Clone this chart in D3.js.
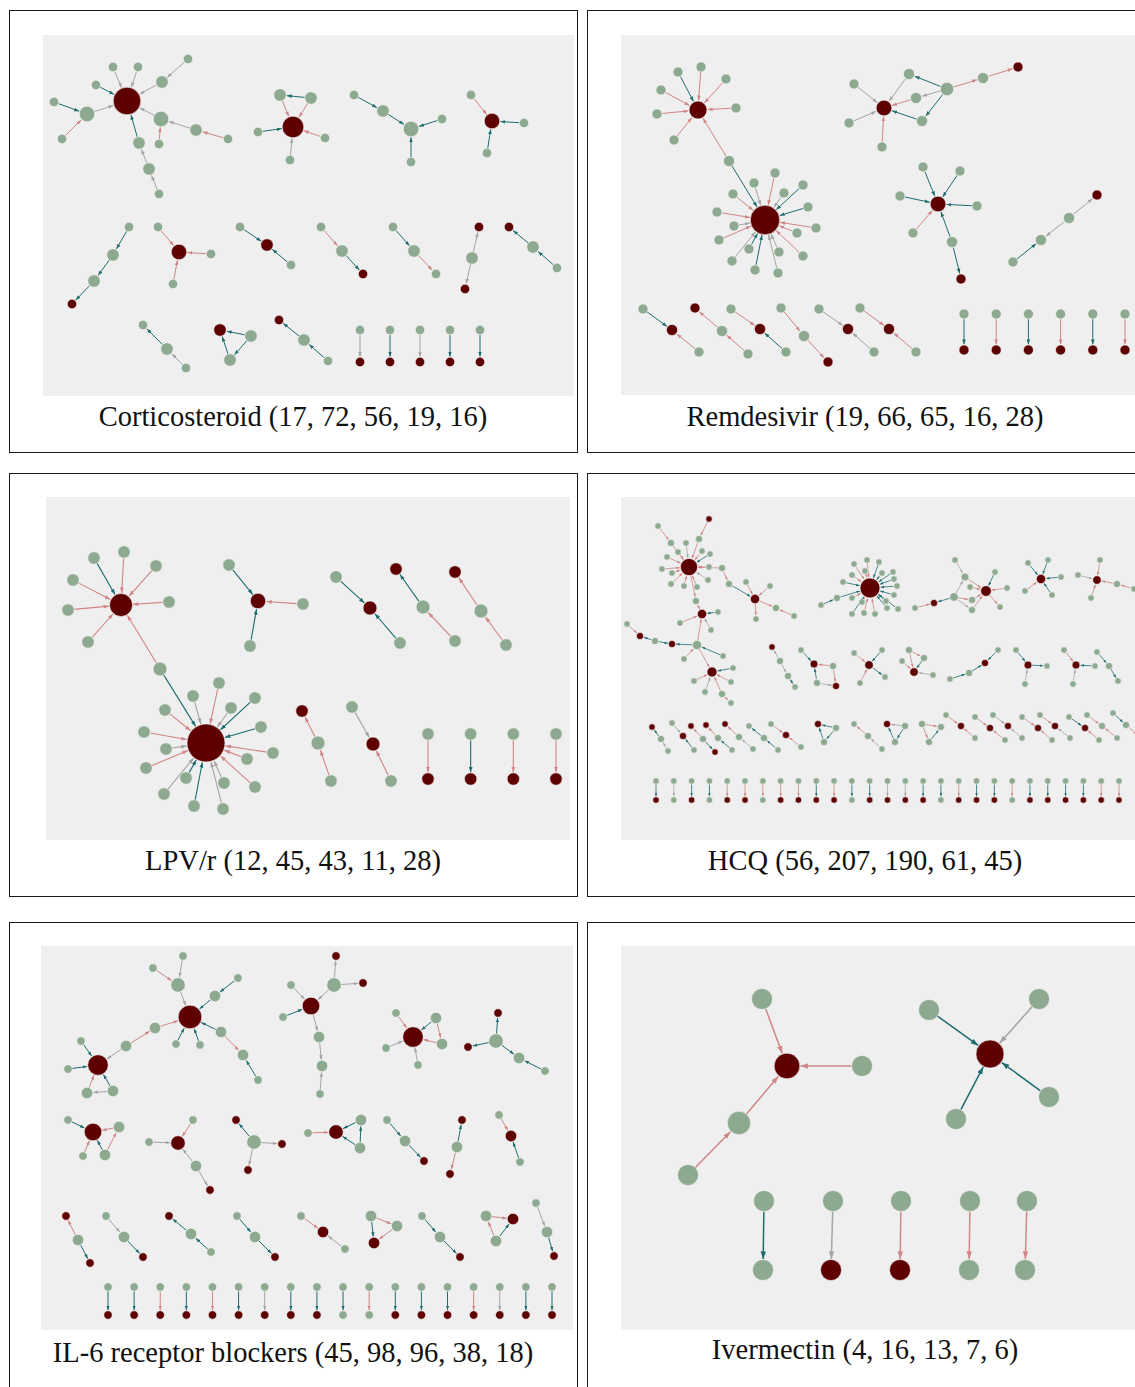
<!DOCTYPE html>
<html>
<head>
<meta charset="utf-8">
<script src="https://cdn.jsdelivr.net/npm/d3@7"></script>
<style>
  body { margin: 0; background: #fff; }
  svg { display: block; }
</style>
</head>
<body>
<div class="figure-container"></div>
<script>
const titles = [
    "Corticosteroid (17, 72, 56, 19, 16)",
    "Remdesivir (19, 66, 65, 16, 28)",
    "LPV/r (12, 45, 43, 11, 28)",
    "HCQ (56, 207, 190, 61, 45)",
    "IL-6 receptor blockers (45, 98, 96, 38, 18)",
    "Ivermectin (4, 16, 13, 7, 6)"
];

// nodes: [id, x, y, kind]  (layout units inside each grey frame, kind r = red, g = green)
// links: [source, target, colour]  (t = teal, p = pink, g = grey)
const cortNodes = [
    ["A",84,66,"r"],["a1",70,32,"g"],["a2",95,32,"g"],["a3",145,24,"g"],["a4",119,47,"g"],["a5",53,50,"g"],
    ["a6",11,67,"g"],["a7",44,79,"g"],["a8",19,104,"g"],["a9",118,84,"g"],["a10",116,109,"g"],["a11",153,95,"g"],
    ["a12",185,104,"g"],["a13",96,108,"g"],["a14",106,134,"g"],["a15",116,159,"g"],
    ["B",250,92,"r"],["b1",237,60,"g"],["b2",268,63,"g"],["b3",215,97,"g"],["b4",282,103,"g"],["b5",247,125,"g"],
    ["c1",311,60,"g"],["c2",340,76,"g"],["c3",368,94,"g"],["c4",399,84,"g"],["c5",368,127,"g"],
    ["D",449,86,"r"],["d1",428,60,"g"],["d2",481,88,"g"],["d3",444,118,"g"],
    ["e1",86,192,"g"],["e2",70,220,"g"],["e3",51,246,"g"],["e4",29,269,"r"],
    ["F",136,217,"r"],["f1",115,192,"g"],["f2",168,219,"g"],["f3",130,249,"g"],
    ["g1",197,192,"g"],["g2",224,210,"r"],["g3",248,230,"g"],
    ["h1",278,192,"g"],["h2",299,216,"g"],["h3",320,239,"r"],
    ["i1",350,192,"g"],["i2",371,216,"g"],["i3",393,239,"g"],
    ["j1",436,192,"r"],["j2",429,223,"g"],["j3",422,254,"r"],
    ["k1",466,192,"r"],["k2",490,212,"g"],["k3",514,233,"g"],
    ["l1",100,290,"g"],["l2",124,314,"g"],["l3",143,333,"g"],
    ["m1",177,295,"r"],["m2",208,301,"g"],["m3",187,325,"g"],
    ["n1",236,285,"r"],["n2",261,305,"g"],["n3",285,326,"g"]
];
const cortLinks = [
    ["a1","A","g"],["a2","A","g"],["a3","a4","g"],["a4","A","g"],["a5","A","t"],["a6","a7","t"],["a8","a7","p"],
    ["a7","A","g"],["a9","A","g"],["a10","a9","p"],["a11","a9","g"],["a12","a11","p"],["a13","A","t"],
    ["a14","a13","g"],["a15","a14","g"],
    ["b2","b1","t"],["b1","B","p"],["b2","B","p"],["b3","B","t"],["b4","B","p"],["b5","B","g"],
    ["c1","c2","t"],["c2","c3","t"],["c4","c3","t"],["c5","c3","t"],
    ["d1","D","p"],["d2","D","t"],["d3","D","t"],
    ["e1","e2","t"],["e2","e3","t"],["e3","e4","t"],
    ["f1","F","p"],["f2","F","p"],["f3","F","p"],
    ["g1","g2","t"],["g3","g2","t"],["h1","h2","p"],["h2","h3","t"],["i1","i2","t"],["i2","i3","p"],
    ["j2","j1","g"],["j2","j3","g"],["k2","k1","t"],["k3","k2","t"],
    ["l2","l1","t"],["l3","l2","g"],["m2","m1","t"],["m3","m1","t"],["m2","m3","t"],["n2","n1","t"],["n3","n2","t"]
];
const cortPairEnds = "rrrrr";
const cortPairLinks = "gtgtt";

const remNodes = [
    ["A",77,75,"r"],["a1",57,37,"g"],["a2",80,32,"g"],["a3",105,44,"g"],["a4",40,55,"g"],["a5",36,79,"g"],
    ["a6",115,73,"g"],["a7",53,105,"g"],["L",108,126,"g"],
    ["H",144,185,"r"],["h1",154,138,"g"],["h2",133,148,"g"],["h3",163,158,"g"],["h4",182,150,"g"],["h5",112,159,"g"],
    ["h6",187,172,"g"],["h7",96,177,"g"],["h8",113,191,"g"],["h9",98,205,"g"],["h10",111,226,"g"],["h11",128,214,"g"],
    ["h12",134,235,"g"],["h13",158,217,"g"],["h14",157,238,"g"],["h15",182,221,"g"],["h16",176,198,"g"],["h17",195,193,"g"],
    ["B",263,73,"r"],["b1",233,49,"g"],["b2",288,39,"g"],["b3",295,63,"g"],["b4",228,88,"g"],["b5",301,86,"g"],
    ["b6",261,112,"g"],["b7",326,54,"g"],["b8",362,43,"g"],["b9",397,32,"r"],
    ["C",317,169,"r"],["c1",302,132,"g"],["c2",339,136,"g"],["c3",279,161,"g"],["c4",356,171,"g"],["c5",292,198,"g"],
    ["c6",331,207,"g"],["c7",340,244,"r"],
    ["D",476,160,"r"],["d1",448,183,"g"],["d2",420,205,"g"],["d3",392,227,"g"],
    ["t1a",22,274,"g"],["t1b",51,295,"r"],["t1c",78,317,"g"],
    ["t2a",74,273,"r"],["t2b",101,296,"g"],["t2c",127,319,"g"],
    ["t3a",110,274,"g"],["t3b",139,294,"r"],["t3c",165,317,"g"],
    ["t4a",160,273,"g"],["t4b",183,301,"g"],["t4c",207,327,"r"],
    ["t5a",198,274,"g"],["t5b",227,294,"r"],["t5c",253,317,"g"],
    ["t6a",239,273,"g"],["t6b",268,294,"r"],["t6c",295,317,"g"]
];
const remLinks = [
    ["a1","A","t"],["a2","A","p"],["a3","A","p"],["a4","A","p"],["a5","A","p"],["a6","A","p"],["a7","A","p"],
    ["L","A","p"],["L","H","t"],
    ["h1","H","p"],["h2","H","g"],["h3","H","g"],["h4","H","t"],["h5","H","p"],["h6","H","t"],["h7","H","p"],
    ["h8","H","g"],["h9","H","p"],["h10","H","g"],["h11","H","t"],["h12","H","t"],["h13","H","g"],["h14","H","g"],
    ["h15","H","p"],["h16","H","p"],["h17","H","p"],
    ["b1","B","g"],["b2","B","g"],["b3","B","p"],["b4","B","g"],["b5","B","t"],["b6","B","p"],
    ["b7","b2","t"],["b7","b3","g"],["b7","b5","t"],["b7","b8","p"],["b8","b9","p"],
    ["c1","C","t"],["c2","C","t"],["c3","C","t"],["c4","C","t"],["c5","C","p"],["c6","C","t"],["c6","c7","t"],
    ["d1","D","g"],["d1","d2","g"],["d3","d2","t"],
    ["t1a","t1b","t"],["t1c","t1b","p"],["t2b","t2a","p"],["t2c","t2b","p"],["t3a","t3b","p"],["t3c","t3b","t"],
    ["t4a","t4b","p"],["t4b","t4c","p"],["t5a","t5b","g"],["t5c","t5b","g"],["t6a","t6b","p"],["t6c","t6b","p"]
];
const remPairEnds = "rrrrrr";
const remPairLinks = "tptptp";

const lpvNodes = [
    ["A",75,108,"r"],["a1",48,61,"g"],["a2",78,55,"g"],["a3",110,69,"g"],["a4",27,83,"g"],["a5",123,105,"g"],
    ["a6",22,113,"g"],["a7",42,145,"g"],["L",114,172,"g"],
    ["H",160,246,"r"],["h1",147,199,"g"],["h2",173,186,"g"],["h3",209,201,"g"],["h4",185,211,"g"],["h5",119,213,"g"],
    ["h6",215,230,"g"],["h7",98,235,"g"],["h8",227,256,"g"],["h9",120,252,"g"],["h10",201,262,"g"],["h11",100,271,"g"],
    ["h12",209,290,"g"],["h13",140,281,"g"],["h14",178,286,"g"],["h15",118,297,"g"],["h16",148,309,"g"],["h17",177,312,"g"],
    ["c1",183,68,"g"],["C",212,104,"r"],["c2",257,107,"g"],["c3",204,149,"g"],
    ["d1",290,80,"g"],["D",324,111,"r"],["d2",354,146,"g"],
    ["E",350,72,"r"],["e1",377,110,"g"],["e2",409,144,"g"],
    ["F",409,75,"r"],["f1",435,114,"g"],["f2",460,148,"g"],
    ["G",256,214,"r"],["g1",272,246,"g"],["g2",285,284,"g"],
    ["k1",306,210,"g"],["K",327,247,"r"],["k2",345,284,"g"]
];
const lpvLinks = [
    ["a1","A","t"],["a2","A","p"],["a3","A","p"],["a4","A","p"],["a5","A","p"],["a6","A","p"],["a7","A","p"],
    ["L","A","p"],["L","H","t"],
    ["h1","H","g"],["h2","H","p"],["h3","H","t"],["h4","H","g"],["h5","H","p"],["h6","H","t"],["h7","H","p"],
    ["h8","H","p"],["h9","H","g"],["h10","H","p"],["h11","H","p"],["h12","H","p"],["h13","H","t"],["h14","H","g"],
    ["h15","H","g"],["h16","H","t"],["h17","H","g"],
    ["c1","C","t"],["c2","C","p"],["c3","C","t"],["d1","D","t"],["d2","D","t"],
    ["e1","E","t"],["e2","e1","p"],["f1","F","p"],["f2","f1","p"],
    ["g1","G","p"],["g2","g1","p"],["k1","K","g"],["k2","K","p"]
];
const lpvPairEnds = "rrrr";
const lpvPairLinks = "ptpp";

const hcqNodes = [
    ["A",68,70,"r"],["a1",65,46,"g"],["a2",78,42,"g"],["a2r",88,22,"r"],["a3",57,55,"g"],["a4",81,54,"g"],
    ["a5",89,57,"g"],["a6",46,60,"g"],["a7",41,72,"g"],["a8",51,76,"g"],["a9",88,70,"g"],["a10",50,87,"g"],
    ["a11",63,89,"g"],["a12",76,90,"g"],["a13",87,83,"g"],["a14",50,46,"g"],["a15",37,29,"g"],["a16",101,71,"g"],
    ["a17",75,104,"g"],["B",81,117,"r"],["b1",97,115,"g"],["b2",59,126,"g"],["b3",90,133,"g"],["M",76,148,"g"],
    ["c1",51,147,"r"],["c2",34,144,"g"],["c3",19,139,"r"],["c4",6,127,"g"],["m1",63,162,"g"],["m2",102,159,"g"],
    ["C",91,175,"r"],["k1",112,171,"g"],["k2",73,184,"g"],["k3",110,185,"g"],["k4",84,195,"g"],["k5",101,197,"g"],
    ["k6",110,206,"g"],
    ["s1",108,87,"g"],["s2",125,85,"g"],["S",134,102,"r"],["s3",149,89,"g"],["s4",135,122,"g"],["s5",155,111,"g"],
    ["s6",173,119,"g"],
    ["H",249,91,"r"],["h1",233,67,"g"],["h2",246,63,"g"],["h3",258,65,"g"],["h4",244,74,"g"],["h5",231,78,"g"],
    ["h6",261,76,"g"],["h7",272,75,"g"],["h8",222,85,"g"],["h9",273,82,"g"],["h10",276,89,"g"],["h11",231,101,"g"],
    ["h12",241,105,"g"],["h13",273,98,"g"],["h14",265,104,"g"],["h15",231,117,"g"],["h16",243,116,"g"],
    ["h17",254,117,"g"],["h18",266,111,"g"],["h19",277,112,"g"],["h20",216,101,"g"],["h21",200,108,"g"],
    ["q1",294,111,"g"],["Q",313,106,"r"],["q2",333,100,"g"],["R",365,94,"r"],["r1",334,63,"g"],["r2",344,80,"g"],
    ["r3",349,90,"g"],["r4",351,103,"g"],["r5",351,113,"g"],["r6",374,75,"g"],["r7",386,91,"g"],["r8",379,110,"g"],
    ["U",420,82,"r"],["u1",407,66,"g"],["u2",427,63,"g"],["u3",440,80,"g"],["u4",404,94,"g"],["u5",431,98,"g"],
    ["V",476,83,"r"],["v1",479,63,"g"],["v2",457,78,"g"],["v3",470,101,"g"],["v4",496,87,"g"],["v5",513,92,"g"],
    ["w1",151,150,"r"],["w2",159,164,"g"],["w3",167,179,"g"],["w4",174,190,"g"],
    ["x1",180,153,"g"],["X",193,167,"r"],["x2",212,169,"g"],["x3",196,186,"g"],["Y",215,189,"r"],
    ["z1",233,156,"g"],["Z",248,168,"r"],["z2",261,153,"g"],["z3",239,186,"g"],["z4",264,180,"g"],
    ["y1",288,153,"g"],["y2",281,164,"g"],["y3",303,161,"g"],["Yr",293,175,"r"],["y4",312,178,"g"],
    ["e1",329,182,"g"],["e2",348,176,"g"],["E",364,166,"r"],["e3",377,153,"g"],
    ["f1",395,153,"g"],["F",407,168,"r"],["f2",426,169,"g"],["f3",404,187,"g"],
    ["g1",443,153,"g"],["G",455,168,"r"],["g2",474,169,"g"],["g3",452,187,"g"],
    ["i1",476,155,"g"],["i2",488,169,"g"],["i3",497,184,"g"]
];
const hcqLinks = [
    ["a1","A","g"],["a2","A","p"],["a2r","a2","p"],["a3","A","p"],["a4","A","p"],["a5","A","t"],["a6","A","p"],
    ["a7","A","p"],["a8","A","p"],["a9","A","p"],["a10","A","p"],["a11","A","p"],["a12","A","p"],["a13","A","g"],
    ["a15","a14","p"],["a14","A","p"],["a16","A","p"],["A","a17","p"],["a17","B","p"],
    ["b1","B","t"],["b2","B","p"],["b3","B","g"],["M","B","p"],
    ["c4","c3","p"],["c2","c3","t"],["c2","c1","t"],["M","c1","t"],["m1","M","p"],["m2","M","t"],["M","C","p"],
    ["k1","C","t"],["k2","C","p"],["k3","C","p"],["k4","C","g"],["k5","C","p"],["k5","k6","p"],
    ["a16","s1","p"],["s1","S","t"],["s2","S","p"],["s3","S","p"],["S","s4","p"],["S","s5","p"],["s6","s5","p"],
    ["h1","H","p"],["h2","H","p"],["h3","H","t"],["h4","H","p"],["h5","H","p"],["h6","H","t"],["h7","H","t"],
    ["h8","H","t"],["h9","H","t"],["h10","H","t"],["h11","H","p"],["h12","H","p"],["h13","H","t"],["h14","H","t"],
    ["h15","H","t"],["h16","H","p"],["h17","H","p"],["h18","H","t"],["h19","H","t"],["h21","h20","t"],["h20","H","t"],
    ["q1","Q","p"],["q2","Q","t"],["r1","r2","g"],["r2","R","p"],["r3","R","p"],["r4","R","p"],["r5","R","p"],
    ["q2","r2","g"],["q2","r5","g"],["q2","r4","p"],["r6","R","t"],["r7","R","p"],["R","r8","p"],
    ["u1","U","t"],["u2","U","t"],["u3","U","t"],["u4","U","p"],["u5","U","t"],
    ["v1","V","p"],["v2","V","g"],["v3","V","p"],["v4","V","p"],["v5","v4","p"],
    ["w2","w1","g"],["w2","w3","g"],["w4","w3","t"],
    ["x1","X","t"],["x2","X","p"],["x3","X","t"],["x3","Y","g"],["x2","Y","p"],
    ["z1","Z","p"],["z2","Z","t"],["z3","Z","p"],["Z","z4","t"],
    ["y1","y3","p"],["y2","Yr","p"],["y3","Yr","t"],["y4","Yr","g"],["y1","Yr","p"],
    ["e1","e2","t"],["e2","E","t"],["e3","E","t"],
    ["f1","F","t"],["F","f2","t"],["f3","F","g"],
    ["g1","G","p"],["g2","G","t"],["g3","G","g"],
    ["i1","i2","t"],["i2","i3","t"]
];
// small three-node components of the third row: kinds, a, b, c positions, links
const hcqTriples = [
    ["rgg",31,230,40,242,47,254,"ba t,cb g"],
    ["grg",51,226,62,239,73,253,"ab g,cb t"],
    ["rgr",70,229,82,242,94,255,"ba p,bc t"],
    ["rgg",85,228,97,241,111,253,"ba p,cb t"],
    ["rgg",104,227,118,240,132,252,"ba p,cb g"],
    ["ggg",128,229,143,241,157,253,"ba t,cb t"],
    ["grg",150,227,165,238,180,250,"ab p,cb p"],
    ["rgg",197,227,215,231,203,245,"ba t,ca t,bc t"],
    ["ggg",233,227,247,239,261,252,"ba p,cb g"],
    ["rgg",266,227,284,229,274,245,"ba g,ca t,bc t"],
    ["ggg",301,227,320,230,308,245,"ab p,ac p,cb t"],
    ["grg",325,218,340,229,354,241,"ab p,cb p"],
    ["grg",354,220,369,231,384,243,"ab p,cb p"],
    ["grg",372,218,387,229,401,241,"ab g,cb g"],
    ["grg",401,220,417,231,431,243,"ab p,cb p"],
    ["grg",419,218,434,229,449,241,"ab p,cb g"],
    ["grg",448,220,464,231,478,243,"ab t,cb p"],
    ["ggg",466,218,481,229,496,241,"ab p,cb p"],
    ["ggg",492,216,505,228,519,240,"ab t,bc p"]
];
const hcqPairEnds = "rgrgrrgrrrrgrrrrgrrrgrrrrrr";
const hcqPairLinks = "tgttppppptpttggttpttpttttpp";

const il6Nodes = [
    ["A",149,71,"r"],["a1",142,10,"g"],["a2",137,39,"g"],["a3",112,22,"g"],["a4",197,32,"g"],["a5",174,50,"g"],
    ["a6",135,98,"g"],["a7",159,99,"g"],["a8",180,86,"g"],["a9",202,109,"g"],["a10",217,134,"g"],["a11",114,82,"g"],
    ["a12",85,100,"g"],
    ["B",57,119,"r"],["b1",40,95,"g"],["b2",27,123,"g"],["b3",46,147,"g"],["b4",72,145,"g"],
    ["C",270,60,"r"],["c1",250,39,"g"],["c2",242,71,"g"],["c3",293,39,"g"],["c4",295,10,"r"],["c5",322,37,"r"],
    ["c6",278,91,"g"],["c7",281,120,"g"],["c8",279,148,"g"],
    ["D",372,91,"r"],["d1",355,67,"g"],["d2",395,72,"g"],["d3",401,98,"g"],["d4",345,102,"g"],["d5",377,119,"g"],
    ["E",455,95,"g"],["e1",457,67,"r"],["e2",427,101,"r"],["e3",478,112,"g"],["e4",504,125,"g"],
    ["F",52,186,"r"],["f1",27,174,"g"],["f2",78,181,"g"],["f3",42,210,"g"],["f4",64,209,"g"],
    ["G",137,197,"r"],["g1",152,174,"g"],["g2",108,196,"g"],["g3",155,220,"g"],["g4",169,244,"r"],
    ["HH",213,196,"g"],["k1",195,174,"r"],["k2",241,198,"r"],["k3",207,224,"r"],
    ["I",295,186,"r"],["i1",267,187,"g"],["i2",320,174,"g"],["i3",319,202,"g"],
    ["j1",346,174,"g"],["j2",364,195,"g"],["j3",383,215,"r"],
    ["K",421,174,"r"],["kk",416,201,"g"],["k4",409,228,"r"],
    ["l1",458,169,"g"],["L",470,190,"r"],["l2",479,216,"g"],
    ["m1",25,270,"r"],["m2",37,294,"g"],["m3",49,317,"r"],
    ["n1",65,270,"g"],["n2",83,291,"g"],["n3",102,311,"r"],
    ["o1",128,270,"r"],["o2",150,288,"g"],["o3",170,306,"g"],
    ["p1",196,270,"g"],["p2",214,291,"g"],["p3",234,311,"r"],
    ["q1",260,270,"g"],["Q",282,286,"r"],["q3",304,303,"g"],
    ["r1",330,270,"g"],["r2",356,280,"g"],["R",333,297,"r"],
    ["s1",381,270,"g"],["s2",399,291,"g"],["s3",419,311,"r"],
    ["t1",445,270,"g"],["T",472,273,"r"],["t2",455,295,"g"],
    ["u1",495,257,"g"],["u2",506,286,"g"],["u3",513,310,"r"]
];
const il6Links = [
    ["a1","a2","g"],["a3","a2","p"],["a2","A","g"],["a4","a5","t"],["a5","A","t"],["a6","A","t"],["a7","A","t"],
    ["a8","A","t"],["a8","a9","p"],["a10","a9","t"],["a11","A","p"],["a12","a11","p"],["a12","B","g"],
    ["b1","B","t"],["b2","B","t"],["b3","B","p"],["b4","B","t"],["b4","b3","g"],
    ["c1","C","g"],["c2","C","t"],["c3","C","g"],["c3","c4","g"],["c3","c5","g"],["C","c6","g"],["c6","c7","g"],["c8","c7","g"],
    ["d1","D","p"],["d2","D","t"],["d3","D","p"],["d2","d3","p"],["d4","D","g"],["d5","D","g"],
    ["E","e1","t"],["E","e2","t"],["E","e3","t"],["e4","e3","t"],
    ["f1","F","t"],["f2","F","p"],["f3","F","p"],["f4","F","t"],["f4","f2","p"],
    ["g1","G","p"],["g2","G","g"],["g3","G","g"],["g3","g4","g"],
    ["HH","k1","t"],["HH","k2","g"],["HH","k3","g"],
    ["i1","I","p"],["i2","I","t"],["i3","I","t"],["i3","i2","t"],
    ["j1","j2","t"],["j2","j3","t"],["kk","K","t"],["kk","k4","p"],["l1","L","p"],["l2","L","t"],
    ["m2","m1","p"],["m2","m3","t"],["n1","n2","g"],["n2","n3","t"],["o2","o1","t"],["o3","o2","t"],
    ["p1","p2","t"],["p2","p3","t"],["q1","Q","p"],["q3","Q","g"],["r1","r2","p"],["r1","R","t"],["r2","R","p"],
    ["s1","s2","t"],["s2","s3","t"],["t1","T","p"],["t2","t1","p"],["t2","T","t"],["u1","u2","g"],["u2","u3","t"]
];
const il6PairEnds = "rrrrrrrrrggrrrrrrr";
const il6PairLinks = "ttptptgtttptttpgtt";

const ivmNodes = [
    ["A",166,120,"r"],["a1",141,53,"g"],["a2",241,120,"g"],["a3",118,177,"g"],["a4",67,229,"g"],
    ["B",369,108,"r"],["b1",308,64,"g"],["b2",418,53,"g"],["b3",428,151,"g"],["b4",335,173,"g"],
    ["q1",143,255,"g"],["q2",142,324,"g"],["q3",212,255,"g"],["q4",210,324,"r"],["q5",280,255,"g"],
    ["q6",279,324,"r"],["q7",349,255,"g"],["q8",348,324,"g"],["q9",406,255,"g"],["q10",404,324,"g"]
];
const ivmLinks = [
    ["a1","A","p"],["a2","A","p"],["a3","A","p"],["a4","a3","p"],
    ["b1","B","t"],["b2","B","g"],["b3","B","t"],["b4","B","t"],
    ["q1","q2","t"],["q3","q4","g"],["q5","q6","p"],["q7","q8","p"],["q9","q10","p"]
];

const edgeColor = {t: "#1d6c6e", p: "#d18585", g: "#a4a4a4"};
const nodeColor = {g: "#8da98f", r: "#5e0000"};

// frame geometry of the figure
const panels = [
    {nodes: cortNodes, links: cortLinks, ends: cortPairEnds, pl: cortPairLinks, pairRow: [317, 437, 295, 327],
     box: [9, 10, 568, 442], frame: [43, 35, 531, 361], r: [4.7, 13.8], arrow: 5, sw: 1, ty: 426},
    {nodes: remNodes, links: remLinks, ends: remPairEnds, pl: remPairLinks, pairRow: [343, 504, 279, 315],
     box: [587, 10, 556, 442], frame: [621, 35, 518, 360], r: [5, 14.7], arrow: 5, sw: 1, ty: 426},
    {nodes: lpvNodes, links: lpvLinks, ends: lpvPairEnds, pl: lpvPairLinks, pairRow: [382, 510, 237, 282],
     box: [9, 473, 568, 423], frame: [46, 497, 524, 343], r: [6.2, 19], arrow: 5.5, sw: 1.1, ty: 870},
    {nodes: hcqNodes, links: hcqLinks, triples: hcqTriples, ends: hcqPairEnds, pl: hcqPairLinks, pairRow: [35, 498, 284, 303],
     box: [587, 473, 556, 423], frame: [621, 497, 518, 343], r: [3.2, 10], arrow: 3.5, sw: 0.8, ty: 870},
    {nodes: il6Nodes, links: il6Links, ends: il6PairEnds, pl: il6PairLinks, pairRow: [67, 511, 341, 369],
     box: [9, 922, 568, 480], frame: [41, 946, 532, 384], r: [4.2, 11.8], arrow: 4.5, sw: 1, ty: 1362},
    {nodes: ivmNodes, links: ivmLinks, ends: "", pl: "", pairRow: null,
     box: [587, 922, 556, 480], frame: [621, 946, 518, 384], r: [10.5, 14], arrow: 7.5, sw: 1.5, ty: 1359}
];

const svg = d3.select(".figure-container").append("svg")
    .attr("width", 1135)
    .attr("height", 1387);
const defs = svg.append("defs");

const renderPanel = (p, i) => {
    const g = svg.append("g").attr("class", "panel");

    g.append("rect")
        .attr("x", p.box[0] + 0.5).attr("y", p.box[1] + 0.5)
        .attr("width", p.box[2]).attr("height", p.box[3])
        .attr("fill", "#fff").attr("stroke", "#1a1a1a").attr("stroke-width", 1);
    g.append("rect")
        .attr("x", p.frame[0]).attr("y", p.frame[1])
        .attr("width", p.frame[2]).attr("height", p.frame[3])
        .attr("fill", "#efefef");
    g.append("text")
        .attr("x", p.box[0] + p.box[2] / 2).attr("y", p.ty)
        .attr("text-anchor", "middle")
        .style("font-family", "'Liberation Serif', 'Times New Roman', serif")
        .style("font-size", "28.5px")
        .attr("fill", "#111")
        .text(titles[i]);

    const x = d3.scaleLinear().domain([0, p.frame[2]]).range([p.frame[0], p.frame[0] + p.frame[2]]);
    const y = d3.scaleLinear().domain([0, p.frame[3]]).range([p.frame[1], p.frame[1] + p.frame[3]]);

    const nodes = p.nodes.map(([id, nx, ny, k]) => ({id, x: nx, y: ny, k}));
    const links = p.links.map(([s, t, c]) => ({s, t, c}));

    if (p.triples) {
        p.triples.forEach((tr, j) => {
            const [kinds, ax, ay, bx, by, cx, cy, spec] = tr;
            const pts = {a: [ax, ay], b: [bx, by], c: [cx, cy]};
            "abc".split("").forEach((key, n) => {
                nodes.push({id: `tr${j}${key}`, x: pts[key][0], y: pts[key][1], k: kinds[n]});
            });
            spec.split(",").forEach(s => {
                links.push({s: `tr${j}${s[0]}`, t: `tr${j}${s[1]}`, c: s[3]});
            });
        });
    }

    if (p.ends) {
        const px = d3.scalePoint().domain(d3.range(p.ends.length)).range([p.pairRow[0], p.pairRow[1]]);
        p.ends.split("").forEach((k, j) => {
            nodes.push({id: "pt" + j, x: px(j), y: p.pairRow[2], k: "g"});
            nodes.push({id: "pb" + j, x: px(j), y: p.pairRow[3], k});
            links.push({s: "pt" + j, t: "pb" + j, c: p.pl[j]});
        });
    }

    const byId = new Map(nodes.map(d => [d.id, d]));
    nodes.forEach(d => d.deg = 0);
    links.forEach(l => {
        l.source = byId.get(l.s);
        l.target = byId.get(l.t);
        l.source.deg++;
        l.target.deg++;
    });

    // node size follows its number of links
    const r = d3.scaleLinear().domain([1, d3.max(nodes, d => d.deg)]).range(p.r);

    Object.keys(edgeColor).forEach(c => {
        defs.append("marker")
            .attr("id", `arrow-${i}-${c}`)
            .attr("viewBox", "0 -5 10 10")
            .attr("refX", 10).attr("refY", 0)
            .attr("markerUnits", "userSpaceOnUse")
            .attr("markerWidth", p.arrow).attr("markerHeight", p.arrow)
            .attr("orient", "auto")
            .append("path")
            .attr("d", "M0,-3.6L10,0L0,3.6Z")
            .attr("fill", edgeColor[c]);
    });

    g.append("g")
        .selectAll("line")
        .data(links)
        .enter()
        .append("line")
        .each(function (l) {
            const x1 = x(l.source.x), y1 = y(l.source.y), x2 = x(l.target.x), y2 = y(l.target.y);
            const len = Math.hypot(x2 - x1, y2 - y1) || 1;
            const ux = (x2 - x1) / len, uy = (y2 - y1) / len;
            const rs = r(l.source.deg), rt = r(l.target.deg) + 0.6;
            d3.select(this)
                .attr("x1", x1 + ux * rs).attr("y1", y1 + uy * rs)
                .attr("x2", x2 - ux * rt).attr("y2", y2 - uy * rt);
        })
        .attr("stroke", l => edgeColor[l.c])
        .attr("stroke-width", p.sw)
        .attr("marker-end", l => `url(#arrow-${i}-${l.c})`);

    g.append("g")
        .selectAll("circle")
        .data(nodes)
        .enter()
        .append("circle")
        .attr("cx", d => x(d.x))
        .attr("cy", d => y(d.y))
        .attr("r", d => r(d.deg))
        .attr("fill", d => nodeColor[d.k])
        .attr("stroke", "#f6f6f6")
        .attr("stroke-width", 0.6);
};

panels.forEach(renderPanel);
</script>
</body>
</html>
